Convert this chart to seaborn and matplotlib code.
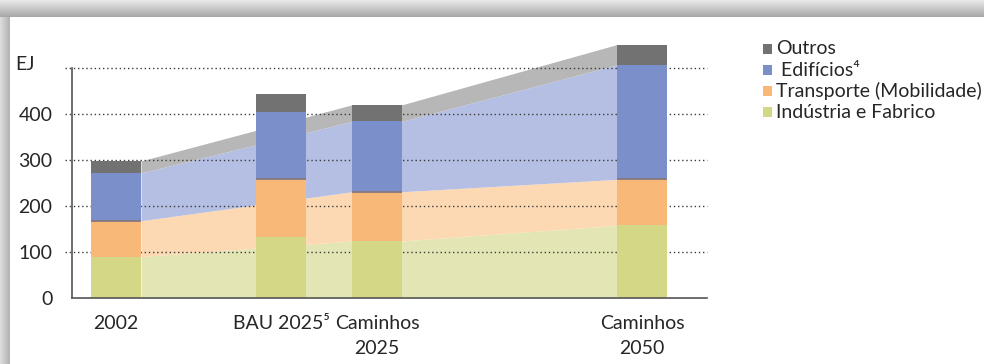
import numpy as np
import matplotlib
matplotlib.use("Agg")
import matplotlib.pyplot as plt
import seaborn as sns
from matplotlib.patches import Rectangle

# Scenario labels and sector values (EJ)
cenarios = ["2002", "BAU 2025⁵", "Caminhos\n2025", "Caminhos\n2050"]
industria = [90, 132, 124, 158]
transporte = [78, 126, 107, 100]
edificios = [104, 147, 153, 249]
outros = [26, 38, 36, 44]
setores = ["Indústria e Fabrico", "Transporte (Mobilidade)", " Edifícios⁴", "Outros"]
y_ticks = [0, 100, 200, 300, 400]
y_grid = [100, 200, 300, 400, 500]
unidade = "EJ"

# Layout: bar centres on the x axis and bar width (axis units)
x_pos = [44, 209, 305, 570]
bar_w = 50
x_max = 635
y_max = 560
caminho = [0, 2, 3]  # scenarios joined by the shaded pathway band

cores_barra = ["#d4d886", "#f8b978", "#7b8fcb", "#727272"]
cores_faixa = ["#e3e6b4", "#fcd9b2", "#b5bee3", "#b7b7b7"]
cor_texto = "#262626"
cor_eixo = "#555555"
fs = 14

sns.set_style("white")
plt.rcParams["font.family"] = ["Lato", "DejaVu Sans"]

W, H = 984, 364
fig = plt.figure(figsize=(W / 100, H / 100), dpi=100)

# Panel with a soft shadow along the top and left edges
bg = fig.add_axes([0, 0, 1, 1], zorder=-10)
img = np.ones((H, W))
top, left = 17, 10
for r in range(top):
    img[r, :] = 0.91 - 0.25 * r / (top - 1)
for c in range(left):
    img[top:, c] = 0.86 - 0.16 * c / (left - 1)
bg.imshow(img, cmap="gray", vmin=0, vmax=1, aspect="auto",
          extent=(0, W, H, 0), interpolation="bilinear")
bg.axis("off")

ax = fig.add_axes([72 / W, 66 / H, 635 / W, (y_max * 0.46) / H])
ax.set_facecolor("none")

valores = np.array([industria, transporte, edificios, outros], dtype=float)
topo = np.cumsum(valores, axis=0)
base = np.vstack([np.zeros(len(cenarios)), topo[:-1]])

# Shaded bands along the pathway scenarios, edge to edge between bars
xs, idx = [], []
for k, i in enumerate(caminho):
    if k > 0:
        xs.append(x_pos[i] - bar_w / 2)
        idx.append(i)
    if k < len(caminho) - 1:
        xs.append(x_pos[i] + bar_w / 2)
        idx.append(i)
for s in range(len(setores)):
    ax.fill_between(xs, base[s, idx], topo[s, idx], color=cores_faixa[s],
                    lw=0, zorder=1)

# Dotted reference lines
ax.hlines(y_grid, -7, x_max, colors="#3c3c3c", linestyles=(0, (1, 2)),
          lw=1.0, zorder=1.5, clip_on=False)

# Stacked bars: draw cumulative totals from the top down
largura = bar_w / np.min(np.diff(sorted(x_pos)))
for s in reversed(range(len(setores))):
    sns.barplot(x=x_pos, y=topo[s], native_scale=True, width=largura,
                color=cores_barra[s], saturation=1, errorbar=None,
                linewidth=0, zorder=2, ax=ax)

# Thin divider between transport and buildings segments
ax.hlines(topo[1], np.array(x_pos) - bar_w / 2, np.array(x_pos) + bar_w / 2,
          colors="#85777f", lw=1.3, zorder=3)

ax.set_xlim(0, x_max)
ax.set_ylim(0, y_max)
for side in ["top", "right"]:
    ax.spines[side].set_visible(False)
for side in ["left", "bottom"]:
    ax.spines[side].set_color(cor_eixo)
    ax.spines[side].set_linewidth(1.2)
ax.spines["left"].set_bounds(0, 500)

ax.set_yticks(y_ticks)
ax.set_yticklabels([str(v) for v in y_ticks])
ax.tick_params(axis="y", length=3, width=1, color=cor_eixo, pad=11,
               labelsize=fs, labelcolor=cor_texto)
ax.set_xticks(x_pos)
ax.set_xticklabels(cenarios)
ax.tick_params(axis="x", length=0, pad=12, labelsize=fs, labelcolor=cor_texto)
for lab in ax.get_xticklabels():
    lab.set_linespacing(1.6)
ax.set_xlabel("")
ax.set_ylabel("")

fig.text(15 / W, 1 - 64 / H, unidade, ha="left", va="center",
         fontsize=fs, color=cor_texto)

# Legend: square swatch plus label, one row per sector (top row = Outros)
leg_x, leg_y0, leg_dy, sw = 763, 49, 21, 9
for row, s in enumerate(reversed(range(len(setores)))):
    yc = leg_y0 + row * leg_dy
    fig.patches.append(Rectangle(((leg_x) / W, 1 - (yc + sw / 2) / H), sw / W, sw / H,
                                 transform=fig.transFigure, facecolor=cores_barra[s],
                                 edgecolor="none"))
    fig.text((leg_x + sw + 4) / W, 1 - yc / H, setores[s], ha="left", va="center",
             fontsize=fs, color=cor_texto)

fig.savefig("out.png", dpi=100)
